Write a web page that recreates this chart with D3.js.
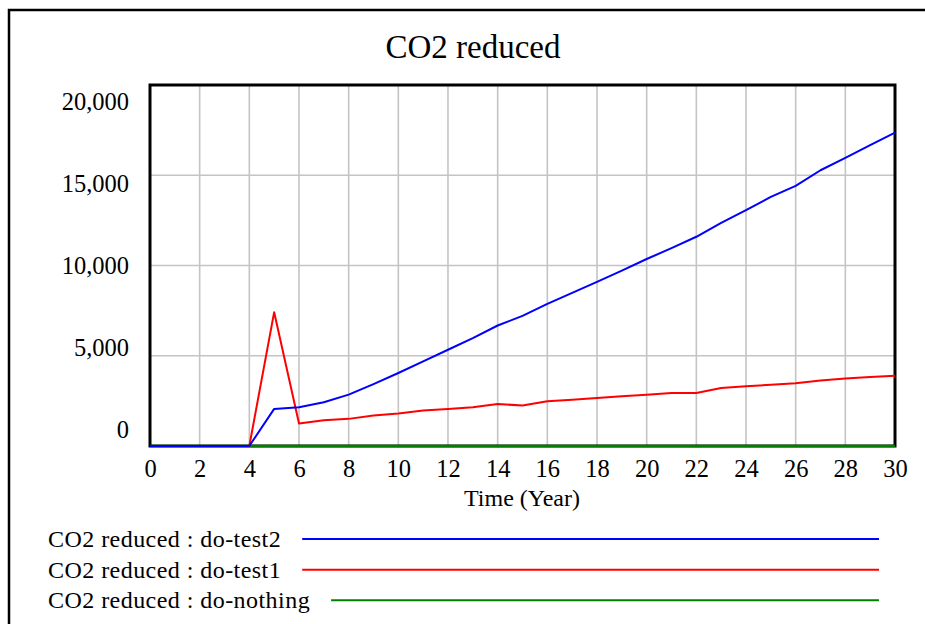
<!DOCTYPE html>
<html>
<head>
<meta charset="utf-8">
<script src="https://cdn.jsdelivr.net/npm/d3@7"></script>
<style>
  html, body { margin: 0; padding: 0; background: #fff; }
  svg { display: block; }
  text { font-family: "Liberation Serif", "Times New Roman", serif; fill: #000; }
</style>
</head>
<body>
<svg id="chart" width="925" height="624"></svg>
<script>
// ---- data ----
const title = "CO2 reduced";
const xLabel = "Time (Year)";
const years = d3.range(0, 31);
const doTest2 = [0, 0, 0, 0, 0, 2055, 2144, 2420, 2845, 3430, 4044, 4690, 5332, 5978, 6676, 7210, 7873, 8480, 9089, 9720, 10360, 10960, 11592, 12365, 13067, 13802, 14410, 15277, 15957, 16670, 17360];
const doTest1 = [0, 0, 0, 0, 0, 7415, 1243, 1425, 1503, 1685, 1796, 1961, 2055, 2144, 2331, 2238, 2475, 2569, 2663, 2751, 2845, 2939, 2939, 3215, 3304, 3398, 3470, 3635, 3746, 3823, 3895];
const doNothing = [0, 0, 0, 0, 0, 0, 0, 0, 0, 0, 0, 0, 0, 0, 0, 0, 0, 0, 0, 0, 0, 0, 0, 0, 0, 0, 0, 0, 0, 0, 0];
const xTicks = d3.range(0, 31, 2);
const yTicks = [0, 5000, 10000, 15000, 20000];
const seriesNames = ["CO2 reduced : do-test2", "CO2 reduced : do-test1", "CO2 reduced : do-nothing"];
const seriesColors = ["#0000ff", "#ff0000", "#008000"];
const seriesValues = [doTest2, doTest1, doNothing];

// ---- layout ----
const svg = d3.select("#chart");
const plot = { left: 150, right: 895, top: 85, bottom: 446 };

const x = d3.scaleLinear().domain([0, 30]).range([plot.left, plot.right]);
const y = d3.scaleLinear().domain([0, 20000]).range([plot.bottom, plot.top]);
// Vensim spreads its value labels evenly in their own band
const yLab = d3.scaleLinear().domain([0, 20000]).range([438, 109.5]);

// outer frame (right and bottom run off the page)
svg.append("path")
  .attr("d", "M9,630 L9,10 L940,10")
  .attr("fill", "none").attr("stroke", "#000").attr("stroke-width", 2.5);

// title
svg.append("text")
  .attr("x", 473).attr("y", 58)
  .attr("text-anchor", "middle")
  .style("font-size", "33px")
  .text(title);

// grid
const g = svg.append("g");
g.selectAll("line.vg").data(xTicks).enter().append("line")
  .attr("x1", d => x(d)).attr("x2", d => x(d))
  .attr("y1", plot.top).attr("y2", plot.bottom)
  .attr("stroke", "#c4c4c4").attr("stroke-width", 1.6);
g.selectAll("line.hg").data(yTicks).enter().append("line")
  .attr("x1", plot.left).attr("x2", plot.right)
  .attr("y1", d => y(d)).attr("y2", d => y(d))
  .attr("stroke", "#c4c4c4").attr("stroke-width", 1.6);

// plot frame
svg.append("rect")
  .attr("x", plot.left).attr("y", plot.top)
  .attr("width", plot.right - plot.left).attr("height", plot.bottom - plot.top)
  .attr("fill", "none").attr("stroke", "#000").attr("stroke-width", 3);

// x axis labels
const xAxis = d3.axisBottom(x).tickValues(xTicks).tickSize(0).tickPadding(0).tickFormat(d3.format("d"));
const xg = svg.append("g").attr("transform", `translate(0,${plot.bottom})`).call(xAxis);
xg.select(".domain").remove();
xg.selectAll("text")
  .attr("y", 31).attr("dy", null)
  .style("font-family", "'Liberation Serif', serif")
  .style("font-size", "24.5px").attr("fill", "#000");

// y axis labels
const fmt = d3.format(",");
svg.append("g").selectAll("text").data(yTicks).enter().append("text")
  .attr("x", 129).attr("y", d => yLab(d))
  .attr("text-anchor", "end")
  .style("font-size", "24.5px")
  .text(d => fmt(d));

// x axis title
svg.append("text")
  .attr("x", 522).attr("y", 506)
  .attr("text-anchor", "middle")
  .style("font-size", "24px")
  .text(xLabel);

// series lines (green first, blue on top)
const line = d3.line().x((d, i) => x(years[i])).y(d => y(d));
[2, 1, 0].forEach(k => {
  svg.append("path")
    .datum(seriesValues[k])
    .attr("d", line)
    .attr("fill", "none")
    .attr("stroke", seriesColors[k])
    .attr("stroke-width", k === 2 ? 2.5 : 2)
    .attr("stroke-linejoin", "round");
});

// legend
const legendY = d3.scaleBand().domain(seriesNames).range([531, 623]);
seriesNames.forEach((name, k) => {
  const cy = legendY(name);
  const t = svg.append("text")
    .attr("x", 48).attr("y", cy + 16)
    .style("font-size", "24px")
    .style("letter-spacing", "0.45px")
    .text(name);
  const w = t.node().getComputedTextLength();
  svg.append("line")
    .attr("x1", 48 + w + 21).attr("x2", 879)
    .attr("y1", cy + 8).attr("y2", cy + 8)
    .attr("stroke", seriesColors[k]).attr("stroke-width", 2);
});
</script>
</body>
</html>
